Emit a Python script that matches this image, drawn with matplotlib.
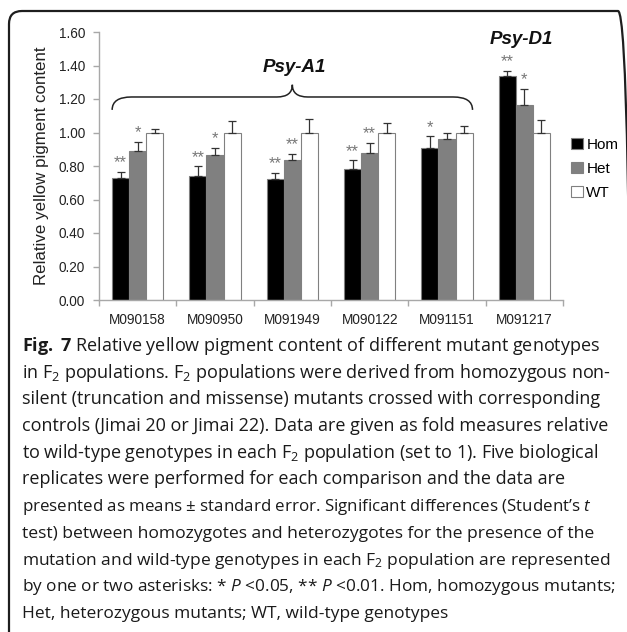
#!/usr/bin/env python3
import matplotlib
matplotlib.use("Agg")
import matplotlib.pyplot as plt
from matplotlib.patches import FancyBboxPatch, Patch
from matplotlib.path import Path
from matplotlib.patches import PathPatch
import numpy as np

samples = ["M090158", "M090950", "M091949", "M090122", "M091151", "M091217"]
hom = [0.73, 0.74, 0.72, 0.785, 0.91, 1.34]
hom_err = [0.036, 0.058, 0.04, 0.05, 0.068, 0.03]
het = [0.89, 0.865, 0.835, 0.88, 0.96, 1.165]
het_err = [0.055, 0.044, 0.038, 0.058, 0.036, 0.095]
wt = [1.0, 1.0, 1.0, 1.0, 1.0, 1.0]
wt_err = [0.02, 0.07, 0.08, 0.056, 0.036, 0.076]
hom_sig = ["**", "**", "**", "**", "*", "**"]
het_sig = ["*", "*", "**", "**", "", "*"]
series_names = ["Hom", "Het", "WT"]
yticks = [0.0, 0.2, 0.4, 0.6, 0.8, 1.0, 1.2, 1.4, 1.6]

caption = [
    r"$\mathbf{Fig.}$ $\mathbf{7}$ Relative yellow pigment content of different mutant genotypes",
    r"in F$_2$ populations. F$_2$ populations were derived from homozygous non-",
    "silent (truncation and missense) mutants crossed with corresponding",
    "controls (Jimai 20 or Jimai 22). Data are given as fold measures relative",
    r"to wild-type genotypes in each F$_2$ population (set to 1). Five biological",
    "replicates were performed for each comparison and the data are",
    r"presented as means ± standard error. Significant differences (Student’s $t$",
    "test) between homozygotes and heterozygotes for the presence of the",
    r"mutation and wild-type genotypes in each F$_2$ population are represented",
    r"by one or two asterisks: * $P$ <0.05, ** $P$ <0.01. Hom, homozygous mutants;",
    "Het, heterozygous mutants; WT, wild-type genotypes",
]
# right end of each caption line in the reference (pixels)
caption_ends = [610, 614, 598, 609, 610, 562, 590, 591, 609, 612, 445]

plt.rcParams["font.family"] = ["Liberation Sans", "DejaVu Sans"]
plt.rcParams["mathtext.fontset"] = "custom"
plt.rcParams["mathtext.rm"] = "Open Sans"
plt.rcParams["mathtext.it"] = "Open Sans:italic"
plt.rcParams["mathtext.bf"] = "Open Sans:bold"

W, H = 627, 632
fig = plt.figure(figsize=(W / 100, H / 100), dpi=100)
ax = fig.add_axes([99 / W, 1 - 300 / H, (563 - 99) / W, (300 - 32) / H])

x = np.arange(len(samples))
bw = 0.22
spine_c = "#a8a8a8"
edge_c = "#808080"
colors = ["black", "#808080", "white"]
vals = [hom, het, wt]
errs = [hom_err, het_err, wt_err]

for i, (v, e, c, name) in enumerate(zip(vals, errs, colors, series_names)):
    xs = x + (i - 1) * bw
    ax.bar(xs, v, bw, color=c, edgecolor=edge_c, linewidth=0.8, label=name,
           zorder=2)
    ax.errorbar(xs, v, yerr=[np.zeros(len(v)), e], fmt="none", ecolor="#333333",
                elinewidth=0.9, capsize=3, capthick=0.9, zorder=3)

# significance stars
for i, (v, e, sig) in enumerate([(hom, hom_err, hom_sig), (het, het_err, het_sig)]):
    xs = x + (i - 1) * bw
    for xx, vv, ee, s in zip(xs, v, e, sig):
        if s:
            ax.text(xx, vv + ee + 0.008, s, ha="center", va="bottom",
                    fontsize=12, color="#777777", zorder=4)

ax.set_ylim(0, 1.6)
ax.set_xlim(-0.5, len(samples) - 0.5)
ax.set_yticks(yticks)
ax.set_yticklabels(["%.2f" % t for t in yticks], fontsize=9.8, color="#222222")
ax.set_xticks(x)
ax.set_xticklabels(samples, fontsize=9.8, color="#222222")
ax.set_xticks(np.arange(len(samples) + 1) - 0.5, minor=True)
ax.tick_params(axis="x", which="major", length=0, pad=9)
ax.tick_params(axis="x", which="minor", length=4, color=spine_c, width=1)
ax.tick_params(axis="y", length=4, color=spine_c, width=1, pad=6)
for sp in ["top", "right"]:
    ax.spines[sp].set_visible(False)
for sp in ["left", "bottom"]:
    ax.spines[sp].set_color(spine_c)
    ax.spines[sp].set_linewidth(1)
ax.set_ylabel("Relative yellow pigment content", fontsize=12.2, color="#222222",
              labelpad=7)

# curly brace over the Psy-A1 groups
bx0 = x[0] - 1.5 * bw
bx1 = x[4] + 1.5 * bw
bxm = (bx0 + bx1) / 2
y_end, y_bar, y_tip = 1.135, 1.212, 1.285
r = 0.25
verts = [
    (bx0, y_end), (bx0, y_bar), (bx0 + r, y_bar),
    (bxm - r * 0.8, y_bar), (bxm, y_bar), (bxm, y_tip),
    (bxm, y_bar), (bxm + r * 0.8, y_bar),
    (bx1 - r, y_bar), (bx1, y_bar), (bx1, y_end),
]
codes = [Path.MOVETO, Path.CURVE3, Path.CURVE3,
         Path.LINETO, Path.CURVE3, Path.CURVE3,
         Path.CURVE3, Path.CURVE3,
         Path.LINETO, Path.CURVE3, Path.CURVE3]
ax.add_patch(PathPatch(Path(verts, codes), fill=False, lw=1.1,
                       ec="#222222", clip_on=False, zorder=3))
ax.text(bxm + 0.03, 1.39, "Psy-A1", ha="center", va="center", fontsize=13.5,
        fontweight="bold", fontstyle="italic", color="#111111")
ax.text(x[5] - 0.04, 1.555, "Psy-D1", ha="center", va="center", fontsize=13.5,
        fontweight="bold", fontstyle="italic", color="#111111")

handles = [Patch(facecolor=c, edgecolor=edge_c, linewidth=0.8) for c in colors]
ax.legend(handles, series_names, loc="center left",
          bbox_to_anchor=(565 / W, 1 - 169 / H), bbox_transform=fig.transFigure,
          frameon=False, fontsize=11, handlelength=0.75, handleheight=0.75,
          handletextpad=0.25, labelspacing=0.65, borderaxespad=0)

# rounded frame around the panel
fig.add_artist(FancyBboxPatch((0.09, -0.4), 6.22, 6.61,
                              boxstyle="round,pad=0,rounding_size=0.13",
                              transform=fig.dpi_scale_trans, fill=False,
                              lw=1.6, ec="#1e1e1e", clip_on=False))

# caption: common size from the typical line, long lines shrunk to fit
x0 = 22
base = 13
cap_texts = []
for i, line in enumerate(caption):
    t = fig.text(x0 / W, 1 - (351 + 26.7 * i) / H, line, ha="left",
                 va="baseline", fontsize=base, family="Open Sans",
                 color="#1a1a1a")
    cap_texts.append(t)
renderer = fig.canvas.get_renderer()
ratios = [(end - x0) / t.get_window_extent(renderer).width
          for t, end in zip(cap_texts, caption_ends)]
size = base * float(np.median(ratios))
for t, rt in zip(cap_texts, ratios):
    t.set_fontsize(min(size, base * rt))

fig.savefig("out.png", dpi=100)
